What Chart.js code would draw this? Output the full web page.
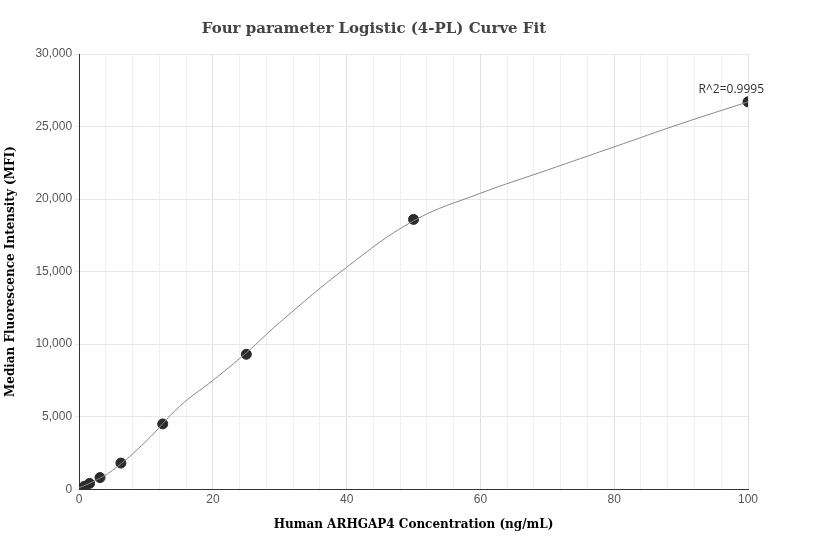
<!DOCTYPE html>
<html><head><meta charset="utf-8">
<script src="https://cdn.jsdelivr.net/npm/chart.js@4/dist/chart.umd.min.js"></script>
<style>body{margin:0;background:#fff}#w{width:832px;height:560px}</style>
</head><body><div id="w"><canvas id="c"></canvas></div>
<script>
const conc = [0.78, 1.56, 3.125, 6.25, 12.5, 25, 50, 100];
const mfi = [200, 400, 800, 1800, 4500, 9300, 18600, 26700];
const curveX = [0, 2, 5, 10, 15, 20, 25, 30, 40, 50, 60, 70, 80, 90, 100];
const curveY = [100, 500, 1300, 3300, 5700, 7500, 9400, 11500, 15300, 18500, 20400, 22000, 23600, 25200, 26700];
const r2Label = "R^2=0.9995";

const annot = {id:'annot', afterDatasetsDraw(ch){
  const {ctx, scales:{x,y}} = ch;
  ctx.save(); ctx.font='12px "Open Sans", sans-serif'; ctx.fillStyle='#333'; ctx.textAlign='center';
  ctx.fillText(r2Label, x.getPixelForValue(97.5), y.getPixelForValue(26700)-9);
  ctx.restore();
}};
new Chart(document.getElementById('c'), {
  type:'scatter',
  data:{datasets:[
    {type:'line', data:curveX.map((v,i)=>({x:v,y:curveY[i]})), borderColor:'#888', borderWidth:1, pointRadius:0, tension:0.4},
    {data:conc.map((v,i)=>({x:v,y:mfi[i]})), backgroundColor:'#2b2b2b', borderColor:'#2b2b2b', pointRadius:5}
  ]},
  options:{responsive:true, maintainAspectRatio:false, animation:false,
    layout:{padding:{left:0,right:84,top:20,bottom:24}},
    plugins:{legend:{display:false}, tooltip:{enabled:false},
      title:{display:true, text:'Four parameter Logistic (4-PL) Curve Fit', color:'#444', font:{family:'DejaVu Serif', size:15, weight:'bold'}, padding:{top:0,bottom:16}}},
    scales:{
      x:{type:'linear', min:0, max:100, ticks:{stepSize:4, color:'#555', font:{size:12}, callback:v=>v%20===0?v:''},
        grid:{color:c=>c.tick && c.tick.value%20===0?'#dde0e8':'#eef0f6', drawTicks:false}, border:{color:'#333'},
        title:{display:true, text:'Human ARHGAP4 Concentration (ng/mL)', font:{family:'DejaVu Serif', size:12, weight:'bold'}, color:'#000', padding:{top:8}}},
      y:{min:0, max:30000, ticks:{stepSize:5000, color:'#555', font:{size:12}, callback:v=>v.toLocaleString('en-US')},
        grid:{color:'#e6e8ee', drawTicks:true, tickLength:4}, border:{color:'#333'},
        title:{display:true, text:'Median Fluorescence Intensity (MFI)', font:{family:'DejaVu Serif', size:12, weight:'bold'}, color:'#000', padding:{bottom:14}}}
    }},
  plugins:[annot]
});
</script></body></html>
